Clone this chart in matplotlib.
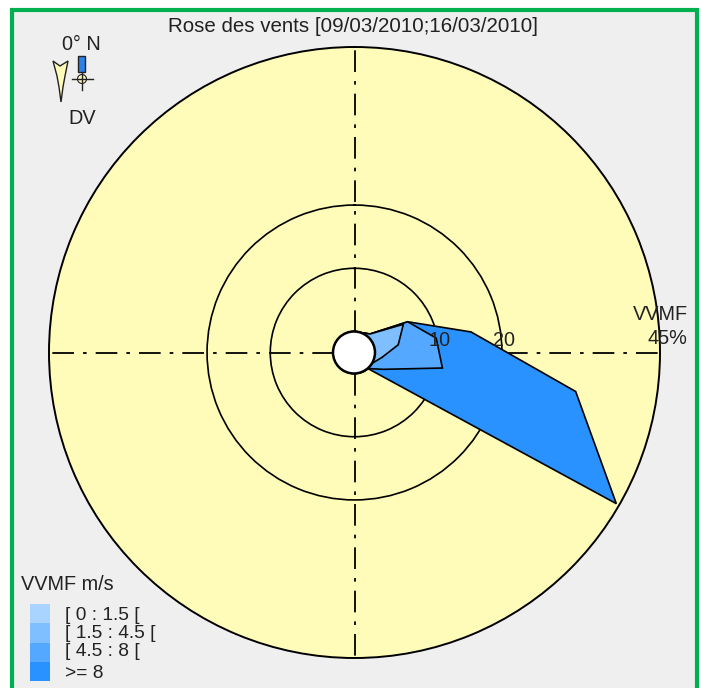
import numpy as np
import matplotlib
matplotlib.use('Agg')
import matplotlib.pyplot as plt
from matplotlib.patches import Rectangle, Circle, Polygon

W, H = 701, 688
plt.rcParams['font.family'] = ['Liberation Sans', 'DejaVu Sans']

# directions in degrees, percent of time per speed class
directions = [20, 40, 60, 80, 100, 120, 140]
class_0 = [0, 0, 0, 0, 0, 0, 0]
class_1 = [0, 0.5, 5.6, 3.7, 1.1, 0, 0]
class_2 = [0, 0, 0.8, 6.1, 9.7, 2.0, 0]
class_3 = [0, 0, 0, 5.6, 21.4, 42.5, 0]
classes = [class_0, class_1, class_2, class_3]
class_labels = ['[ 0 : 1.5 [', '[ 1.5 : 4.5 [', '[ 4.5 : 8 [', '>= 8']
class_colors = ['#A9D4FF', '#80BFFF', '#55A8FF', '#2A92FF']
ring_values = [10, 20]
r_max = 45

cx, cy, R, r_in = 354.5, 352.5, 305.5, 21

fig = plt.figure(figsize=(W / 100, H / 100), dpi=100, facecolor='white')

# background panel with the green frame
bg = fig.add_axes([0, 0, 1, 1])
bg.set_xlim(0, W)
bg.set_ylim(H, 0)
bg.axis('off')
bg.add_patch(Rectangle((11.5, 10), 685, 700, fc='#EFEFEF', ec='#00B050', lw=3))

# rose
ax = fig.add_axes([(cx - R) / W, 1 - (cy + R) / H, 2 * R / W, 2 * R / H], projection='polar')
ax.set_theta_zero_location('N')
ax.set_theta_direction(-1)
ax.set_rorigin(-r_in / ((R - r_in) / r_max))
ax.set_rlim(0, r_max)
ax.set_facecolor('#FFFBB9')
ax.set_xticks(np.deg2rad([0, 90, 180, 270]))
ax.set_yticks(ring_values)
ax.set_xticklabels([])
ax.set_yticklabels([])
ax.tick_params(length=0)
ax.xaxis.grid(True, color='black', lw=1.3, ls=(0, (12, 5, 2, 5)))
ax.yaxis.grid(True, color='black', lw=1.2, ls='-')
ax.set_axisbelow(True)
for s in ax.spines.values():
    s.set_edgecolor('black')
    s.set_linewidth(1.4)

theta = np.deg2rad(directions)
cum = np.cumsum(np.array(classes), axis=0)
for i in range(3, 0, -1):
    ax.fill(theta, cum[i], fc=class_colors[i], ec='black', lw=1.2, zorder=3 + (3 - i))

# texts and small glyphs on top, in pixels
top = fig.add_axes([0, 0, 1, 1], facecolor='none')
top.set_xlim(0, W)
top.set_ylim(H, 0)
top.axis('off')
top.add_patch(Circle((cx - 0.5, cy), r_in, fc='white', ec='black', lw=1.8))

txt = dict(color='#222222', fontsize=14.3, ha='center', va='center')
top.text(353, 26, 'Rose des vents [09/03/2010;16/03/2010]', **{**txt, 'fontsize': 14.8})
top.text(81, 45, '0° N', **txt)
top.text(82, 119, 'DV', **txt)
top.text(440, 340, '10', **txt)
top.text(504, 340, '20', **txt)
top.text(660, 315, 'VVMF', **txt)
top.text(667, 339, '45%', **txt)
top.text(21, 584, 'VVMF m/s', **{**txt, 'ha': 'left'})

# legend
label_y = [616, 634, 652, 674]
for i, (lab, col) in enumerate(zip(class_labels, class_colors)):
    top.add_patch(Rectangle((29.5, 604 + i * 19.25), 20, 19.25, fc=col, ec='none'))
    top.text(65, label_y[i], lab, **{**txt, 'ha': 'left', 'fontsize': 13.8})

# little direction symbol
top.add_patch(Rectangle((78, 55.5), 7, 16, fc='#2A82E8', ec='#222222', lw=1))
top.add_patch(Circle((82, 79), 4.5, fc='#FFFBB9', ec='#222222', lw=0.8))
top.plot([72, 93], [79, 79], color='#222222', lw=1)
top.plot([82, 82], [72, 90], color='#222222', lw=1)
top.add_patch(Polygon([(53, 61), (60, 66), (68, 61), (65, 76), (63, 87), (61, 102),
                       (59, 87), (57, 76)], fc='#FFFBB9', ec='#222222', lw=1))

fig.savefig('out.png', dpi=100)
